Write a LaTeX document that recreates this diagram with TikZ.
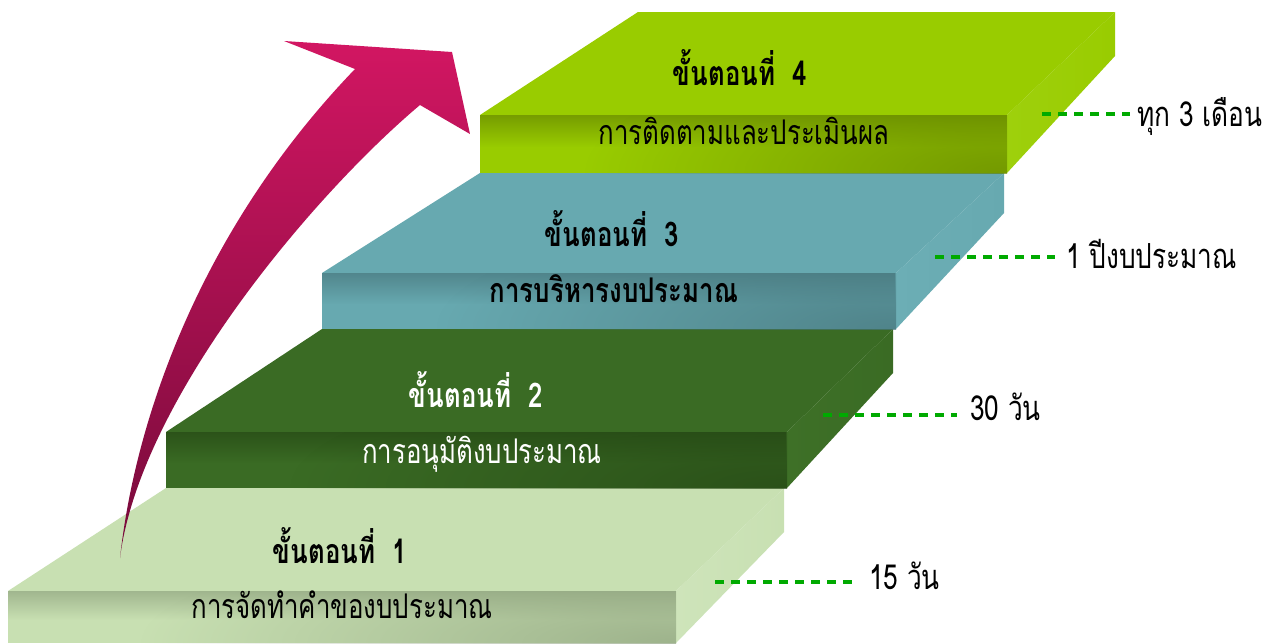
\documentclass[tikz,border=0pt]{standalone}
\usepackage{fontspec}
\newfontfamily\thai[Script=Thai,FakeStretch=0.76]{Loma}
\usetikzlibrary{fadings}
\definecolor{lgbase}{RGB}{200,224,178}
\definecolor{lgdark}{RGB}{140,160,124}
\definecolor{lgside}{RGB}{206,228,186}
\definecolor{dgbase}{RGB}{58,107,36}
\definecolor{dgdark}{RGB}{36,70,20}
\definecolor{dgside}{RGB}{62,112,39}
\definecolor{tlbase}{RGB}{103,169,176}
\definecolor{tldark}{RGB}{70,116,122}
\definecolor{tlside}{RGB}{108,174,181}
\definecolor{lmbase}{RGB}{153,204,0}
\definecolor{lmdark}{RGB}{100,132,0}
\definecolor{lmside}{RGB}{158,208,12}
\definecolor{arrtop}{RGB}{210,22,98}
\definecolor{arrbot}{RGB}{118,10,58}
\definecolor{dashgreen}{RGB}{0,170,0}
\tikzfading[name=fadedown, top color=transparent!0, bottom color=transparent!100]
\tikzfading[name=cornerfade, inner color=transparent!0, outer color=transparent!100]
\newcommand{\drawslab}[9]{%
  % #1 xL, #2 xR, #3 yTop, #4 yBot, #5 yBack, #6 xBackLeft, #7 xBackRight, #8 ySideBottom, #9 colour prefix
  \fill[#9base] (#1,#3) -- (#2,#3) -- (#7,#5) -- (#6,#5) -- cycle;
  \shade[left color=#9side, right color=#9base] (#2,#3) -- (#7,#5) -- (#7,#8) -- (#2,#4) -- cycle;
  \fill[#9base] (#1,#3) rectangle (#2,#4);
  \begin{scope}
    \clip (#1,#3) rectangle (#2,#4);
    \fill[#9dark, path fading=fadedown, fill opacity=0.65] (#1,#3) rectangle (#2,{#3+0.55*(#4-#3)});
    \fill[#9dark, path fading=cornerfade, fill opacity=0.7] (#2,#4) ellipse [x radius={0.8*(#2-#1)}, y radius={2.2*(#4-#3)}];
  \end{scope}
}
\tikzset{
  heading/.style={anchor=base, font=\thai\bfseries\fontsize{34}{40}\selectfont, inner sep=0pt},
  subtitle/.style={anchor=base, font=\thai\fontsize{34}{40}\selectfont, inner sep=0pt},
  sidelabel/.style={anchor=base west, font=\thai\fontsize{34.5}{40}\selectfont, inner sep=0pt, text=black},
  leader/.style={draw=dashgreen, line width=3.2pt, dash pattern=on 9pt off 7pt}
}
\begin{document}
\begin{tikzpicture}[x=1pt,y=-1pt]
\useasboundingbox (0,0) rectangle (1267,643);
\fill[white] (0,0) rectangle (1267,643);

% slabs, bottom to top
\drawslab{8}{676}{591}{643}{488}{166}{784}{532}{lg}
\drawslab{166}{787}{432}{488}{329}{322}{893}{373}{dg}
\drawslab{322}{896}{273}{329}{173}{480}{1004}{213}{tl}
\drawslab{480}{1007}{115}{173}{12}{638}{1115}{56}{lm}

% curved arrow
\shade[top color=arrtop, middle color=arrtop!85!arrbot, bottom color=arrbot]
  (120,558) .. controls (135,420) and (200,230) .. (355,69)
  -- (284,41) -- (452,52) -- (470,134) -- (420,105)
  .. controls (313,195) and (140,400) .. (120,558) -- cycle;

% texts on slabs
\node[heading, text=black] (h1) at (340,563) {ขั้นตอนที่\ \ 1};
\node[subtitle, text=black] (s1) at (342,618) {การจัดทำคำของบประมาณ};
\node[heading, text=white] (h2) at (476,407) {ขั้นตอนที่\ \ 2};
\node[subtitle, text=white] (s2) at (482,463) {การอนุมัติงบประมาณ};
\node[heading, text=black] (h3) at (612,246) {ขั้นตอนที่\ \ 3};
\node[heading, text=black] (s3) at (614,302) {การบริหารงบประมาณ};
\node[heading, text=black] (h4) at (740,85) {ขั้นตอนที่\ \ 4};
\node[subtitle, text=black] (s4) at (744,144) {การติดตามและประเมินผล};

% side labels with dashed leaders
\coordinate (d4) at (1042,114);
\node[sidelabel] (l4) at (1137,126) {ทุก 3 เดือน};
\draw[leader] (d4) -- ([xshift=-7pt]d4 -| l4.west);
\coordinate (d3) at (935,257);
\node[sidelabel] (l3) at (1066,268) {1 ปีงบประมาณ};
\draw[leader] (d3) -- ([xshift=-11pt]d3 -| l3.west);
\coordinate (d2) at (823,415);
\node[sidelabel] (l2) at (970,420) {30 วัน};
\draw[leader] (d2) -- ([xshift=-13pt]d2 -| l2.west);
\coordinate (d1) at (715,582);
\node[sidelabel] (l1) at (869,589) {15 วัน};
\draw[leader] (d1) -- ([xshift=-10pt]d1 -| l1.west);
\end{tikzpicture}
\end{document}
